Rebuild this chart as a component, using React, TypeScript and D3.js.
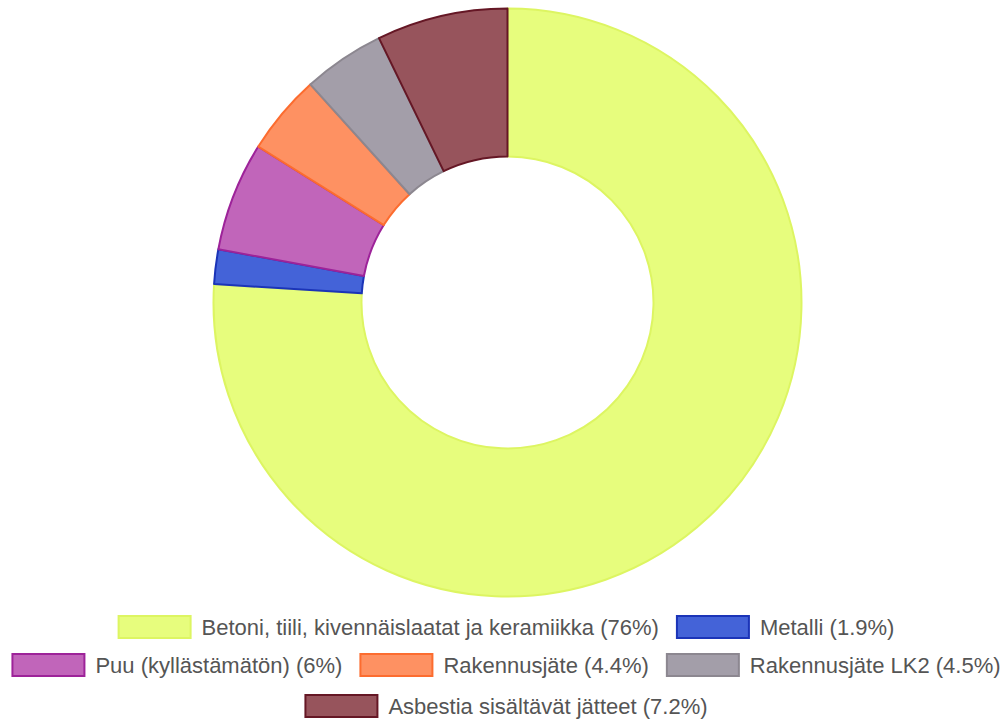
import React, { useEffect, useRef } from "react";
import * as d3 from "d3";

const labels = [
  "Betoni, tiili, kivennäislaatat ja keramiikka (76%)",
  "Metalli (1.9%)",
  "Puu (kyllästämätön) (6%)",
  "Rakennusjäte (4.4%)",
  "Rakennusjäte LK2 (4.5%)",
  "Asbestia sisältävät jätteet (7.2%)",
];
const values = [76, 1.9, 6, 4.4, 4.5, 7.2];
const fills = ["#e7fd7d", "#4463d8", "#c165ba", "#fe9162", "#a39ea9", "#97545c"];
const strokes = ["#ddf562", "#1b34b8", "#9d2399", "#fc6c2f", "#8c8790", "#651725"];

const W = 1003;
const H = 721;
const cx = 507.5;
const cy = 302.5;
const outerR = 294;
const innerR = 146;

export default function App() {
  const legendRef = useRef<SVGGElement>(null);

  const pie = d3.pie<number>().sort(null).value((d) => d);
  const arcs = pie(values);
  const arcGen = d3.arc<d3.PieArcDatum<number>>().innerRadius(innerR).outerRadius(outerR);

  useEffect(() => {
    const g = d3.select(legendRef.current);
    g.selectAll("*").remove();
    const boxW = 74, boxH = 22, gapText = 10, gapItem = 17, maxW = 1000, fs = 22;
    const rowYs = [627, 665, 706];
    const items = labels.map((l, i) => {
      const t = g.append("text").attr("font-family", "Liberation Sans, Arial, sans-serif")
        .attr("font-size", fs).attr("fill", "#555").text(l);
      const w = (t.node() as SVGTextElement).getComputedTextLength();
      t.remove();
      return { l, i, w: boxW + gapText + w };
    });
    const rows: typeof items[] = [];
    let cur: typeof items = [];
    let curW = 0;
    items.forEach((it) => {
      const add = cur.length ? gapItem + it.w : it.w;
      if (cur.length && curW + add > maxW) {
        rows.push(cur);
        cur = [it];
        curW = it.w;
      } else {
        cur.push(it);
        curW += add;
      }
    });
    if (cur.length) rows.push(cur);
    rows.forEach((row, ri) => {
      const total = row.reduce((s, it) => s + it.w, 0) + gapItem * (row.length - 1);
      let x = 506 - total / 2;
      const y = rowYs[ri] ?? 627 + ri * 39;
      row.forEach((it) => {
        g.append("rect").attr("x", x + 1).attr("y", y - 11).attr("width", boxW - 2).attr("height", boxH)
          .attr("fill", fills[it.i]).attr("stroke", strokes[it.i]).attr("stroke-width", 2);
        g.append("text").attr("x", x + boxW + gapText).attr("y", y).attr("dy", "0.35em")
          .attr("font-family", "Liberation Sans, Arial, sans-serif").attr("font-size", fs)
          .attr("fill", "#555").text(it.l);
        x += it.w + gapItem;
      });
    });
  }, []);

  return (
    <svg width={W} height={H} style={{ position: "absolute", left: 0, top: 0, background: "#fff" }}>
      <g transform={`translate(${cx},${cy})`}>
        {arcs.map((a, i) => (
          <path key={i} d={arcGen(a) ?? ""} fill={fills[i]} stroke={strokes[i]} strokeWidth={2} strokeLinejoin="round" />
        ))}
      </g>
      <g ref={legendRef} />
    </svg>
  );
}
